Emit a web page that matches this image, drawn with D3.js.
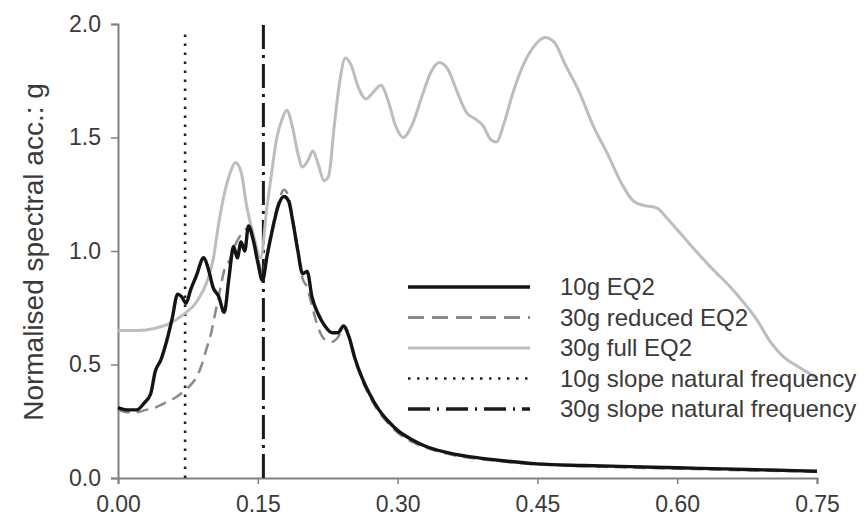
<!DOCTYPE html>
<html>
<head>
<meta charset="utf-8">
<script src="https://cdn.jsdelivr.net/npm/d3@7"></script>
<style>
  body { margin: 0; background: #fff; }
  svg { display: block; font-family: "Liberation Sans", Arial, sans-serif; }
</style>
</head>
<body>
<svg id="chart" width="866" height="529"></svg>
<script>
// frequency (x) and normalised spectral acceleration (y)
const eq10_f = [0, 0.010, 0.020, 0.028, 0.035, 0.040, 0.046, 0.052, 0.058, 0.064, 0.068, 0.073, 0.078, 0.084, 0.092, 0.097, 0.102, 0.108, 0.114, 0.119, 0.124, 0.128, 0.132, 0.136, 0.140, 0.145, 0.150, 0.155, 0.160, 0.166, 0.172, 0.178, 0.183, 0.188, 0.193, 0.198, 0.203, 0.208, 0.215, 0.222, 0.230, 0.236, 0.242, 0.248, 0.254, 0.262, 0.270, 0.280, 0.290, 0.300, 0.315, 0.330, 0.350, 0.375, 0.400, 0.450, 0.500, 0.550, 0.600, 0.650, 0.700, 0.750];
const eq10_v = [0.31, 0.30, 0.30, 0.33, 0.37, 0.47, 0.52, 0.60, 0.70, 0.81, 0.80, 0.77, 0.83, 0.89, 0.97, 0.92, 0.84, 0.80, 0.73, 0.88, 1.02, 0.97, 1.04, 1.00, 1.11, 1.05, 0.95, 0.87, 0.98, 1.10, 1.20, 1.24, 1.22, 1.12, 1.00, 0.90, 0.91, 0.80, 0.72, 0.67, 0.64, 0.64, 0.67, 0.62, 0.53, 0.44, 0.37, 0.30, 0.25, 0.21, 0.17, 0.14, 0.115, 0.095, 0.082, 0.062, 0.055, 0.050, 0.045, 0.040, 0.035, 0.030];

const red30_f = [0, 0.010, 0.020, 0.030, 0.040, 0.050, 0.060, 0.070, 0.078, 0.085, 0.090, 0.095, 0.100, 0.105, 0.110, 0.115, 0.120, 0.125, 0.130, 0.135, 0.140, 0.145, 0.150, 0.155, 0.160, 0.166, 0.172, 0.178, 0.183, 0.188, 0.193, 0.198, 0.203, 0.208, 0.215, 0.222, 0.230, 0.236, 0.242, 0.248, 0.254, 0.262, 0.270, 0.280, 0.290, 0.300, 0.315, 0.330, 0.350, 0.375, 0.400, 0.450, 0.500, 0.550, 0.600, 0.650, 0.700, 0.750];
const red30_v = [0.30, 0.29, 0.29, 0.30, 0.31, 0.33, 0.35, 0.38, 0.41, 0.45, 0.50, 0.57, 0.64, 0.74, 0.84, 0.93, 0.96, 1.02, 1.06, 1.09, 1.10, 1.06, 0.97, 0.90, 0.99, 1.11, 1.21, 1.27, 1.24, 1.13, 1.00, 0.88, 0.84, 0.76, 0.66, 0.61, 0.60, 0.62, 0.66, 0.62, 0.53, 0.43, 0.36, 0.29, 0.24, 0.20, 0.16, 0.135, 0.11, 0.09, 0.078, 0.06, 0.052, 0.046, 0.041, 0.036, 0.032, 0.028];

const full30_f = [0, 0.020, 0.040, 0.055, 0.070, 0.085, 0.095, 0.102, 0.108, 0.114, 0.120, 0.126, 0.132, 0.138, 0.146, 0.153, 0.160, 0.165, 0.170, 0.176, 0.181, 0.187, 0.193, 0.198, 0.204, 0.209, 0.215, 0.221, 0.226, 0.232, 0.238, 0.244, 0.250, 0.258, 0.266, 0.274, 0.282, 0.290, 0.298, 0.306, 0.316, 0.326, 0.336, 0.345, 0.354, 0.364, 0.374, 0.384, 0.392, 0.400, 0.406, 0.414, 0.424, 0.436, 0.448, 0.458, 0.468, 0.480, 0.495, 0.510, 0.525, 0.540, 0.553, 0.565, 0.578, 0.590, 0.603, 0.620, 0.638, 0.655, 0.670, 0.685, 0.700, 0.715, 0.730, 0.742, 0.750];
const full30_v = [0.65, 0.65, 0.66, 0.68, 0.72, 0.78, 0.86, 0.96, 1.12, 1.25, 1.34, 1.39, 1.35, 1.20, 1.06, 0.97, 1.20, 1.35, 1.49, 1.58, 1.62, 1.55, 1.43, 1.37, 1.40, 1.44, 1.38, 1.31, 1.33, 1.55, 1.75, 1.85, 1.82, 1.72, 1.67, 1.70, 1.73, 1.66, 1.55, 1.50, 1.56, 1.68, 1.79, 1.83, 1.80, 1.70, 1.61, 1.58, 1.55, 1.49, 1.48, 1.56, 1.70, 1.83, 1.91, 1.94, 1.92, 1.82, 1.70, 1.55, 1.43, 1.30, 1.22, 1.20, 1.19, 1.14, 1.08, 1.00, 0.92, 0.85, 0.78, 0.70, 0.60, 0.53, 0.49, 0.46, 0.44];

const natFreq10 = 0.072;
const natFreq30 = 0.156;

const xTicks = [0, 0.15, 0.30, 0.45, 0.60, 0.75];
const yTicks = [0, 0.5, 1.0, 1.5, 2.0];
const legendLabels = ["10g EQ2", "30g reduced EQ2", "30g full EQ2", "10g slope natural frequency", "30g slope natural frequency"];

const svg = d3.select("#chart");
const W = 866, H = 529;
const margin = { top: 24, right: 49, bottom: 51, left: 118 };
const innerW = W - margin.left - margin.right;
const innerH = H - margin.top - margin.bottom;
const g = svg.append("g").attr("transform", `translate(${margin.left}, ${margin.top})`);

const x = d3.scaleLinear().domain([0, 0.75]).range([0, innerW]);
const y = d3.scaleLinear().domain([0, 2]).range([innerH, 0]);

const axisColor = "#808080", textColor = "#3a3a3a";

// axes
const xAxis = g.append("g")
	.attr("transform", `translate(0, ${innerH})`)
	.call(d3.axisBottom(x).tickValues(xTicks).tickFormat(d3.format(".2f")).tickSize(6).tickPadding(12));
const yAxis = g.append("g")
	.call(d3.axisLeft(y).tickValues(yTicks).tickFormat(d3.format(".1f")).tickSize(7).tickPadding(10));
[xAxis, yAxis].forEach(a => {
	a.select(".domain").attr("stroke", axisColor).attr("stroke-width", 2);
	a.selectAll(".tick line").attr("stroke", axisColor).attr("stroke-width", 1.5);
	a.selectAll(".tick text").attr("fill", textColor).style("font-size", "23px")
		.style("font-family", "Liberation Sans, Arial, sans-serif");
});

svg.append("text")
	.attr("transform", `translate(43, 252) rotate(-90)`)
	.attr("text-anchor", "middle")
	.attr("fill", textColor)
	.style("font-size", "28px")
	.text("Normalised spectral acc.: g");

// series styles
const series = [
	{ f: full30_f, v: full30_v, stroke: "#bdbdbd", width: 3, dash: null },
	{ f: red30_f, v: red30_v, stroke: "#8a8a8a", width: 2.5, dash: "12,7" },
	{ f: eq10_f, v: eq10_v, stroke: "#141414", width: 3.4, dash: null }
];

const line = d3.line()
	.x(d => x(d[0]))
	.y(d => y(d[1]))
	.curve(d3.curveMonotoneX);

// natural frequency markers
g.append("line")
	.attr("x1", x(natFreq10)).attr("x2", x(natFreq10))
	.attr("y1", y(0)).attr("y2", y(1.98))
	.attr("stroke", "#222").attr("stroke-width", 2.6)
	.attr("stroke-dasharray", "2.5,6.5");
g.append("line")
	.attr("x1", x(natFreq30)).attr("x2", x(natFreq30))
	.attr("y1", y(0)).attr("y2", y(2.0))
	.attr("stroke", "#1a1a1a").attr("stroke-width", 3)
	.attr("stroke-dasharray", "24,6,3,6");

series.forEach(s => {
	g.append("path")
		.datum(s.f.map((f, i) => [f, s.v[i]]))
		.attr("fill", "none")
		.attr("stroke", s.stroke)
		.attr("stroke-width", s.width)
		.attr("stroke-dasharray", s.dash)
		.attr("stroke-linejoin", "round")
		.attr("d", line);
});

// legend
const legendStyles = [
	{ stroke: "#141414", width: 3.5, dash: null },
	{ stroke: "#8a8a8a", width: 3, dash: "16,8" },
	{ stroke: "#bdbdbd", width: 3, dash: null },
	{ stroke: "#222", width: 2.6, dash: "2.5,6.5" },
	{ stroke: "#1a1a1a", width: 3.5, dash: "22,7,2,7" }
];
const legend = svg.append("g").attr("transform", "translate(408, 287)");
legendLabels.forEach((label, i) => {
	const row = legend.append("g").attr("transform", `translate(0, ${i * 30.5})`);
	row.append("line")
		.attr("x1", 0).attr("x2", 122)
		.attr("stroke", legendStyles[i].stroke)
		.attr("stroke-width", legendStyles[i].width)
		.attr("stroke-dasharray", legendStyles[i].dash);
	row.append("text")
		.attr("x", 152).attr("dy", "0.35em")
		.attr("fill", textColor)
		.style("font-size", "24px")
		.text(label);
});
</script>
</body>
</html>
